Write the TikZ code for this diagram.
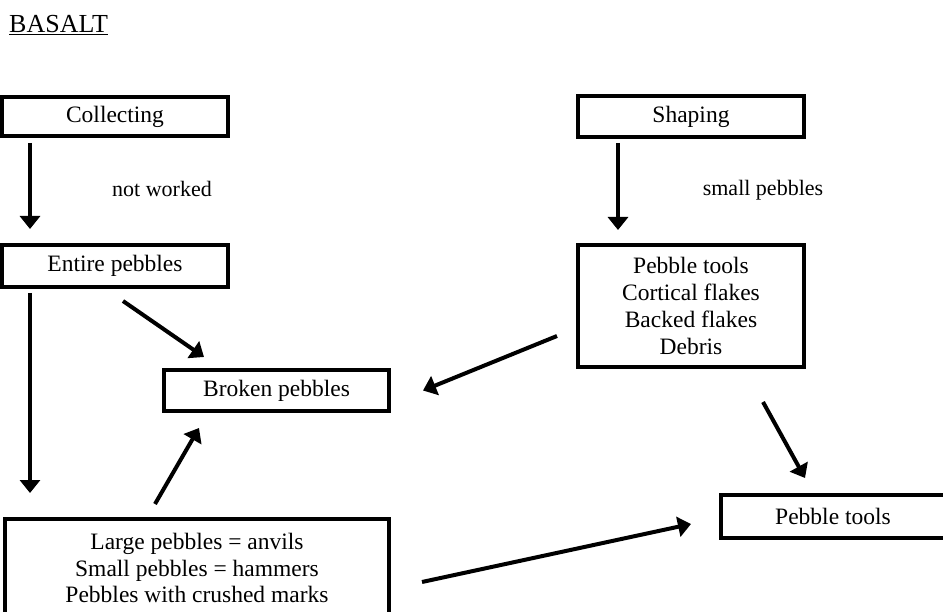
\documentclass[tikz,border=0pt]{standalone}
\usepackage{fontspec}
\setmainfont{Liberation Serif}
\usepackage{tikz}
\usetikzlibrary{arrows.meta}

\begin{document}
\begin{tikzpicture}[x=1pt,y=-1pt,>={Triangle[width=20pt,length=13pt]},
    font=\fontsize{23.5}{26.7}\selectfont,
    box/.style={draw,line width=4pt,inner sep=0pt,outer sep=0pt,align=center},
    lbl/.style={font=\fontsize{22}{26}\selectfont},
    arr/.style={->,line width=4pt}]
  \clip (0,0) rectangle (943,612);
  \node[anchor=base west,inner sep=0pt,font=\fontsize{26}{30}\selectfont] (title) at (9,33) {\underline{BASALT}};

  \node[box,minimum width=226pt,minimum height=39pt] (collect) at (115,116.5) {Collecting};
  \node[box,minimum width=226pt,minimum height=42pt] (entire) at (115,266) {Entire pebbles};
  \node[box,minimum width=225pt,minimum height=41pt] (broken) at (276.5,390.5) {Broken pebbles};
  \node[box,minimum width=384pt,minimum height=98pt] (large) at (197,568)
    {Large pebbles = anvils\\Small pebbles = hammers\\Pebbles with crushed marks};
  \node[lbl] (notworked) at (162,189) {not worked};

  \node[box,minimum width=226pt,minimum height=41pt] (shaping) at (691,116.5) {Shaping};
  \node[box,minimum width=226pt,minimum height=122pt] (debitage) at (691,306)
    {Pebble tools\\Cortical flakes\\Backed flakes\\Debris};
  \node[box,minimum width=224pt,minimum height=43pt] (tools) at (833,516.5) {Pebble tools};
  \node[lbl] (smallpeb) at (763,190) {small pebbles};

  \draw[arr] ([shift={(28,7)}]collect.south west) -- ([shift={(28,-16)}]entire.north west);
  \draw[arr] ([shift={(28,6)}]entire.south west) -- ([shift={(25,-26)}]large.north west);
  \draw[arr] ([shift={(121,14)}]entire.south west) -- ([shift={(40,-13)}]broken.north west);
  \draw[arr] ([shift={(150,-15)}]large.north west) -- ([shift={(35,17)}]broken.south west);
  \draw[arr] ([shift={(33,63)}]large.north east) -- ([shift={(-30,7.5)}]tools.west);

  \draw[arr] ([shift={(40,6)}]shaping.south west) -- ([shift={(40,-15)}]debitage.north west);
  \draw[arr] ([shift={(-21,-31)}]debitage.south west) -- ([shift={(34,0)}]broken.east);
  \draw[arr] ([shift={(185,35)}]debitage.south west) -- ([shift={(84,-17)}]tools.north west);
\end{tikzpicture}
\end{document}
